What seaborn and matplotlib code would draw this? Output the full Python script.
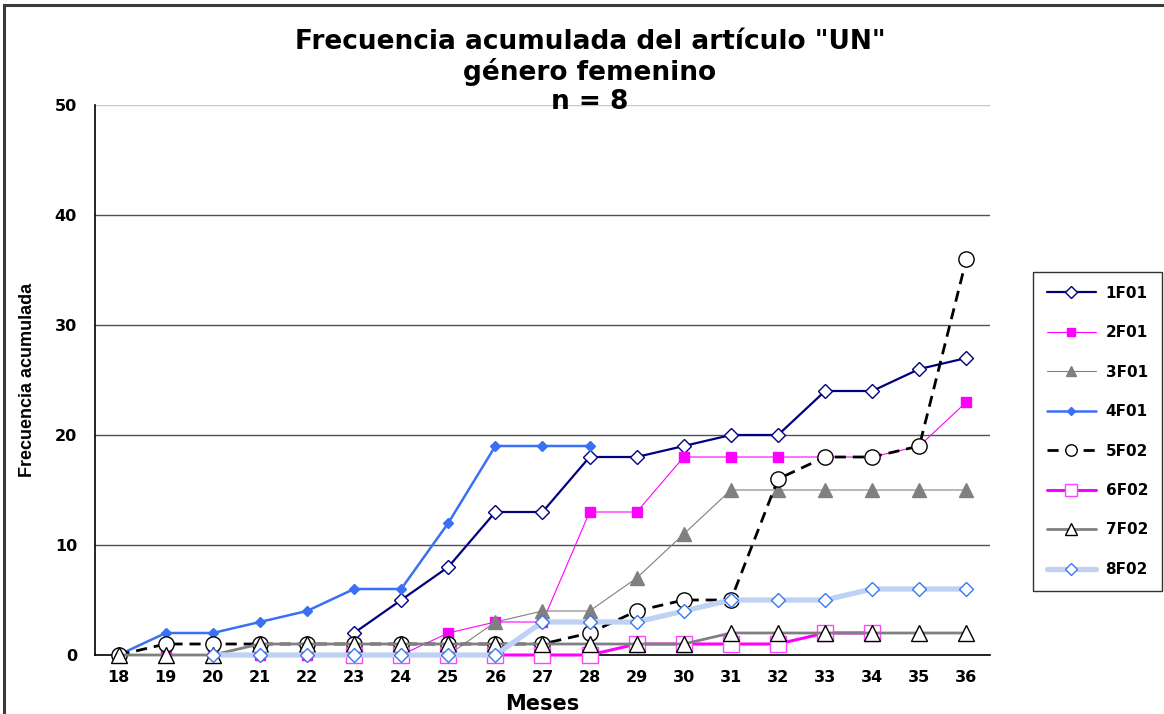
import numpy as np
import pandas as pd
import matplotlib
matplotlib.use("Agg")
import matplotlib.pyplot as plt
from matplotlib.patches import Rectangle
from matplotlib.lines import Line2D
import seaborn as sns

nan = np.nan

# Months (x axis categories)
months = list(range(18, 37))

# Cumulative frequency per subject
s_1F01 = [nan, nan, nan, nan, nan, 2, 5, 8, 13, 13, 18, 18, 19, 20, 20, 24, 24, 26, 27]
s_2F01 = [0, 0, 0, 0, 0, 0, 0, 2, 3, 3, 13, 13, 18, 18, 18, 18, 18, 19, 23]
s_3F01 = [nan, nan, nan, nan, nan, nan, nan, 0, 3, 4, 4, 7, 11, 15, 15, 15, 15, 15, 15]
s_4F01 = [0, 2, 2, 3, 4, 6, 6, 12, 19, 19, 19, nan, nan, nan, nan, nan, nan, nan, nan]
s_5F02 = [0, 1, 1, 1, 1, 1, 1, 1, 1, 1, 2, 4, 5, 5, 16, 18, 18, 19, 36]
s_6F02 = [nan, nan, nan, nan, nan, 0, 0, 0, 0, 0, 0, 1, 1, 1, 1, 2, 2, nan, nan]
s_7F02 = [0, 0, 0, 1, 1, 1, 1, 1, 1, 1, 1, 1, 1, 2, 2, 2, 2, 2, 2]
s_8F02 = [nan, nan, 0, 0, 0, 0, 0, 0, 0, 3, 3, 3, 4, 5, 5, 5, 6, 6, 6]

series_names = ["1F01", "2F01", "3F01", "4F01", "5F02", "6F02", "7F02", "8F02"]
series_values = [s_1F01, s_2F01, s_3F01, s_4F01, s_5F02, s_6F02, s_7F02, s_8F02]

title_text = 'Frecuencia acumulada del artículo "UN"\ngénero femenino\nn = 8'
x_label = "Meses"
y_label = "Frecuencia acumulada"
y_ticks = [0, 10, 20, 30, 40, 50]

styles = {
    "1F01": dict(color="#000080", lw=1.6, ls="-", marker="D", ms=7.5, mfc="white", mec="#000080", mew=1.0),
    "2F01": dict(color="#ff00ff", lw=0.8, ls="-", marker="s", ms=7.5, mfc="#ff00ff", mec="#ff00ff", mew=1.0),
    "3F01": dict(color="#808080", lw=0.8, ls="-", marker="^", ms=10, mfc="#808080", mec="#808080", mew=1.0),
    "4F01": dict(color="#3a70f4", lw=1.8, ls="-", marker="D", ms=5.5, mfc="#3a70f4", mec="#3a70f4", mew=1.0),
    "5F02": dict(color="black", lw=2.0, ls=(0, (4, 2.5)), marker="o", ms=11, mfc="white", mec="black", mew=1.0),
    "6F02": dict(color="#ff00ff", lw=2.2, ls="-", marker="s", ms=11, mfc="white", mec="#ff44ff", mew=1.0),
    "7F02": dict(color="#808080", lw=2.0, ls="-", marker="^", ms=12, mfc="white", mec="black", mew=1.0),
    "8F02": dict(color="#c0d2f4", lw=3.8, ls="-", marker="D", ms=7.5, mfc="white", mec="#3a78f2", mew=1.0),
}

sns.set_style("white")
plt.rcParams["font.family"] = ["DejaVu Sans"]
plt.rcParams["text.color"] = "black"
plt.rcParams["axes.labelcolor"] = "black"
plt.rcParams["xtick.color"] = "black"
plt.rcParams["ytick.color"] = "black"

fig = plt.figure(figsize=(11.64, 7.14), dpi=100)
ax = fig.add_axes([95 / 1164, 1 - 655 / 714, (990 - 95) / 1164, (655 - 105) / 714])

handles = []
for i, (name, vals) in enumerate(zip(series_names, series_values)):
    st = styles[name]
    df = pd.DataFrame({"mes": months, "valor": vals}).dropna()
    sns.lineplot(data=df, x="mes", y="valor", ax=ax, estimator=None, sort=True,
                 color=st["color"], linewidth=st["lw"], linestyle=st["ls"],
                 marker=st["marker"], markersize=st["ms"], markerfacecolor=st["mfc"],
                 markeredgecolor=st["mec"], markeredgewidth=st["mew"], zorder=3 + i,
                 clip_on=False)
    handles.append(Line2D([], [], color=st["color"], linewidth=st["lw"], linestyle=st["ls"],
                          marker=st["marker"], markersize=st["ms"] * 0.75,
                          markerfacecolor=st["mfc"], markeredgecolor=st["mec"],
                          markeredgewidth=st["mew"]))

ax.set_xlim(17.5, 36.5)
ax.set_ylim(0, 50)
ax.set_xticks(months)
ax.set_xticklabels([str(m) for m in months], fontsize=11.5, fontweight="bold")
ax.set_xticks(np.arange(17.5, 37, 1.0), minor=True)
ax.tick_params(axis="x", which="major", length=0, pad=11)
ax.tick_params(axis="x", which="minor", length=5, width=1, direction="out", color="black")
ax.set_yticks(y_ticks)
ax.set_yticklabels([str(v) for v in y_ticks], fontsize=11.5, fontweight="bold")
ax.tick_params(axis="y", which="major", length=6, width=1, direction="out", color="black", pad=7)

ax.grid(axis="y", color="#505050", linewidth=1.0)
ax.grid(axis="x", visible=False)
gl = ax.get_ygridlines()
gl[-1].set_color("#c8c8c8")
gl[0].set_visible(False)

for side in ["top", "right"]:
    ax.spines[side].set_visible(False)
for side in ["left", "bottom"]:
    ax.spines[side].set_color("black")
    ax.spines[side].set_linewidth(1.2)

ax.set_xlabel(x_label, fontsize=15, fontweight="bold")
ax.set_ylabel(y_label, fontsize=13, fontweight="bold",
              family=["Liberation Sans Narrow", "Liberation Sans", "DejaVu Sans"])
ax.xaxis.set_label_coords(0.5, -0.07)
ax.yaxis.set_label_coords(-0.066, 0.5)

fig.text(590 / 1164, 1 - 29 / 714, title_text, ha="center", va="top",
         fontsize=19, fontweight="bold", linespacing=1.15)

leg = fig.legend(handles, series_names, loc="upper left",
                 bbox_to_anchor=(1033 / 1164, 1 - 272 / 714),
                 prop={"weight": "bold", "size": 11}, frameon=True, fancybox=False,
                 handlelength=3.2, handletextpad=0.65, labelspacing=1.6,
                 borderpad=0.9, borderaxespad=0)
leg.get_frame().set_edgecolor("black")
leg.get_frame().set_linewidth(1.0)

fig.patches.append(Rectangle((4 / 1164, -0.05), 1.2, 1 - 5 / 714 + 0.05,
                             transform=fig.transFigure, fill=False,
                             edgecolor="#3a3a3a", linewidth=2.2))

fig.savefig("out.png", dpi=100)
